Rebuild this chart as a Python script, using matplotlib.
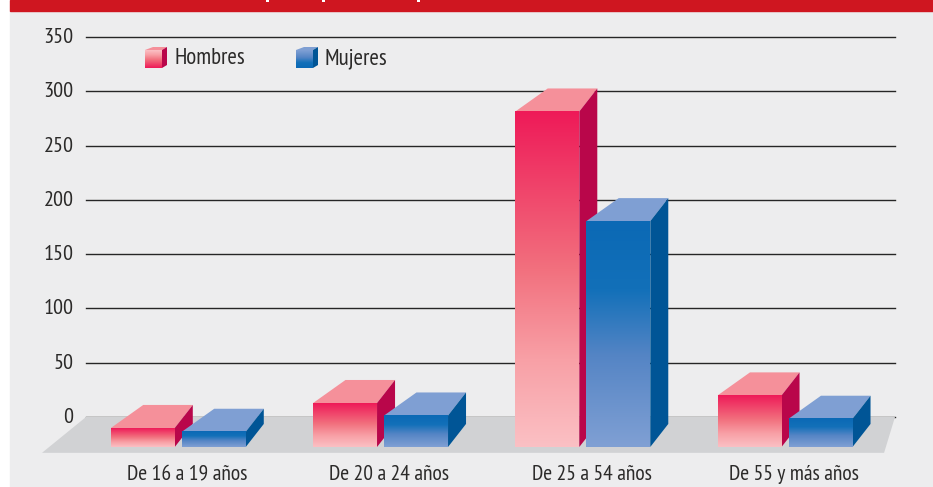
import numpy as np
import matplotlib
matplotlib.use('Agg')
import matplotlib.pyplot as plt
from matplotlib import font_manager as fm
from matplotlib.colors import LinearSegmentedColormap
from matplotlib.patches import Polygon, Rectangle
from matplotlib.transforms import ScaledTranslation

categorias = ['De 16 a 19 años', 'De 20 a 24 años', 'De 25 a 54 años', 'De 55 y más años']
hombres = [17.5, 40.5, 309, 47.5]
mujeres = [14, 29, 208, 26]
ticks_y = [0, 50, 100, 150, 200, 250, 300, 350]

instaladas = {f.name for f in fm.fontManager.ttflist}
for nombre in ['PT Sans Narrow', 'Fira Sans Condensed', 'Roboto Condensed', 'Liberation Sans']:
    if nombre in instaladas:
        plt.rcParams['font.family'] = [nombre, 'DejaVu Sans']
        break

W, H = 933, 487
base = -27.6     # frente de las barras, por debajo del cero
ancho = 0.316
sep = 0.351      # distancia entre la barra de hombres y la de mujeres
fondo_izq = 0.16 # perspectiva: la cara superior se estrecha hacia atras
fondo_der = 0.089
fondo_y = 21.2

rojo = {'front': [(0, '#ee1a58'), (0.47, '#f2707e'), (0.74, '#f8a0a6'), (1, '#fbc0c4')], 'top': '#f5909a', 'side': '#b9064a'}
azul = {'front': [(0, '#0b69b5'), (0.3, '#1270b9'), (0.6, '#5585c5'), (1, '#80a0d4')], 'top': '#7f9fd3', 'side': '#005596'}

fig = plt.figure(figsize=(W / 100, H / 100), dpi=100, facecolor='white')
fig.patches.append(Rectangle((10 / W, 0), 1 - 10 / W, 1 - 11 / H, transform=fig.transFigure, color='#ededee', zorder=-5))
fig.patches.append(Rectangle((10 / W, 1 - 11 / H), 1 - 10 / W, 11 / H, transform=fig.transFigure, color='#cf1620', zorder=-5))
# restos del titulo recortado en la banda roja
for xp in [266, 322, 417]:
    fig.patches.append(Rectangle((xp / W, 1 - 1.5 / H), 2.5 / W, 1.5 / H, transform=fig.transFigure, color='white', lw=0))

ax = fig.add_axes([86 / W, 1 - 417 / H, 809 / W, 380 / H])
ax.patch.set_alpha(0)
for s in ax.spines.values():
    s.set_visible(False)


def barra(x, valor, col, z):
    tope = base + valor
    cmap = LinearSegmentedColormap.from_list('g', col['front'])
    grad = np.linspace(0, 1, 256).reshape(-1, 1)
    ax.imshow(grad, extent=(x, x + ancho, base, tope), origin='upper', aspect='auto', cmap=cmap,
              zorder=z + 0.2, clip_on=False)
    ax.add_patch(Polygon([(x, tope), (x + fondo_izq, tope + fondo_y), (x + ancho + fondo_der, tope + fondo_y),
                          (x + ancho, tope)], color=col['top'], lw=0, zorder=z, clip_on=False))
    ax.add_patch(Polygon([(x + ancho, tope), (x + ancho + fondo_der, tope + fondo_y),
                          (x + ancho + fondo_der, base + fondo_y), (x + ancho, base)],
                         color=col['side'], lw=0, zorder=z, clip_on=False))


# suelo gris
ax.add_patch(Polygon([(-0.7176, -33), (-0.5, 0), (3.5, 0), (3.446, -33)], color='#d1d2d4', lw=0, zorder=1, clip_on=False))

for i in range(len(categorias)):
    barra(i - 0.377, hombres[i], rojo, 3 + i * 2)
    barra(i - 0.377 + sep, mujeres[i], azul, 4 + i * 2)

ax.set_xlim(-0.5, 3.5)
ax.set_ylim(0, 350)
ax.set_yticks(ticks_y)
ax.set_xticks(range(len(categorias)))
ax.set_xticklabels(categorias, fontsize=15.5, color='#2b2a29')
ax.tick_params(axis='y', length=0, pad=9, labelsize=16, labelcolor='#2b2a29')
ax.tick_params(axis='x', length=0, pad=34.5)
ax.grid(axis='y', color='#262626', lw=1, zorder=0, clip_on=False)
ax.set_axisbelow(True)
for t in ax.get_yticklabels():
    t.set_transform(t.get_transform() + ScaledTranslation(0, 1.5 / 100, fig.dpi_scale_trans))

# leyenda
ley = fig.add_axes([0, 0, 1, 1])
ley.axis('off')
for x0, col, texto, xt in [(145, rojo, 'Hombres', 174), (296, azul, 'Mujeres', 325)]:
    cmap = LinearSegmentedColormap.from_list('g', col['front'])
    ley.imshow(np.linspace(0, 1, 64).reshape(-1, 1), extent=(x0, x0 + 17, 68, 50), aspect='auto', cmap=cmap, origin='lower')
    ley.add_patch(Polygon([(x0, 50), (x0 + 8, 47), (x0 + 22, 47), (x0 + 17, 50)], color=col['top'], lw=0))
    ley.add_patch(Polygon([(x0 + 17, 50), (x0 + 22, 47), (x0 + 22, 65), (x0 + 17, 68)], color=col['side'], lw=0))
    ley.text(xt, 58.5, texto, fontsize=16.5, color='#2b2a29', va='center', ha='left')
ley.set_xlim(0, W)
ley.set_ylim(H, 0)

fig.savefig('out.png', dpi=100)
